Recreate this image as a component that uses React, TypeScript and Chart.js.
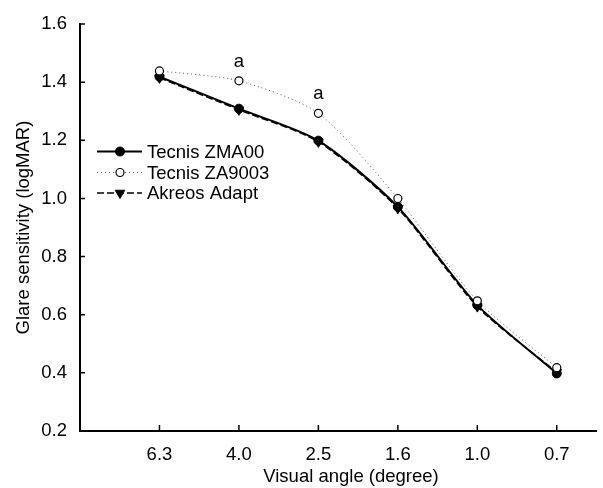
import React, { useEffect, useRef } from 'react';
import { Chart, registerables } from 'chart.js';

Chart.register(...registerables);

// ---- data ----
const categories = ['6.3', '4.0', '2.5', '1.6', '1.0', '0.7'];
const tecnisZMA00 = [1.419, 1.309, 1.199, 0.971, 0.633, 0.398];
const tecnisZA9003 = [1.439, 1.405, 1.293, 1.0, 0.648, 0.418];
const akreosAdapt = [1.415, 1.305, 1.195, 0.966, 0.628, 0.402];
const seriesNames = ['Tecnis ZMA00', 'Tecnis ZA9003', 'Akreos Adapt'];
const yTickValues = [0.2, 0.4, 0.6, 0.8, 1.0, 1.2, 1.4, 1.6];
const significantCategories = ['4.0', '2.5'];
const significanceLabel = 'a';
const xAxisTitle = 'Visual angle (degree)';
const yAxisTitle = 'Glare sensitivity (logMAR)';

// ---- styles ----
const FONT = "'Liberation Sans', Arial, Helvetica, sans-serif";
const FS = 18.5;

type SeriesStyle = {
  color: string;
  width: number;
  dash: number[];
  point: 'circle' | 'triangle';
  radius: number;
  fill: string;
  pointBorder: string;
  pointBorderWidth: number;
  rotation: number;
  order: number;
};

const seriesStyles: SeriesStyle[] = [
  { color: '#000', width: 2, dash: [], point: 'circle', radius: 4.5, fill: '#000', pointBorder: '#000', pointBorderWidth: 1, rotation: 0, order: 1 },
  { color: '#555', width: 1, dash: [1, 3], point: 'circle', radius: 4, fill: '#fff', pointBorder: '#000', pointBorderWidth: 1.2, rotation: 0, order: 0 },
  { color: '#000', width: 1.5, dash: [7, 3], point: 'triangle', radius: 5.5, fill: '#000', pointBorder: '#000', pointBorderWidth: 1, rotation: 180, order: 2 },
];
const seriesValues = [tecnisZMA00, tecnisZA9003, akreosAdapt];

function drawMarker(ctx: CanvasRenderingContext2D, s: SeriesStyle, x: number, y: number) {
  ctx.save();
  ctx.setLineDash([]);
  ctx.fillStyle = s.fill;
  ctx.strokeStyle = s.pointBorder;
  ctx.lineWidth = s.pointBorderWidth;
  ctx.beginPath();
  if (s.point === 'circle') {
    ctx.arc(x, y, s.radius, 0, Math.PI * 2);
  } else {
    const r = s.radius;
    const h = Math.sin(Math.PI / 3) * r;
    ctx.moveTo(x - h, y - r / 2);
    ctx.lineTo(x + h, y - r / 2);
    ctx.lineTo(x, y + r);
    ctx.closePath();
  }
  ctx.fill();
  ctx.stroke();
  ctx.restore();
}

const decorPlugin = {
  id: 'decor',
  afterDraw(chart: any) {
    const { ctx, chartArea, scales } = chart;
    const xs = scales.x;
    const ys = scales.y;
    ctx.save();
    // inward tick marks
    ctx.strokeStyle = '#000';
    ctx.lineWidth = 1.5;
    ctx.setLineDash([]);
    ctx.beginPath();
    ys.ticks.forEach((t: any) => {
      const py = ys.getPixelForValue(t.value);
      ctx.moveTo(chartArea.left, py);
      ctx.lineTo(chartArea.left + 5, py);
    });
    xs.ticks.forEach((t: any) => {
      const px = xs.getPixelForValue(t.value);
      ctx.moveTo(px, chartArea.bottom);
      ctx.lineTo(px, chartArea.bottom - 6);
    });
    ctx.stroke();

    // x axis title
    ctx.fillStyle = '#000';
    ctx.font = `${FS}px ${FONT}`;
    ctx.textAlign = 'center';
    ctx.textBaseline = 'alphabetic';
    ctx.fillText(xAxisTitle, 351, 481.5);

    // significance labels
    significantCategories.forEach((c) => {
      const i = categories.indexOf(c);
      const px = xs.getPixelForValue(i);
      const py = ys.getPixelForValue(tecnisZA9003[i]);
      ctx.fillText(significanceLabel, px, py - 14);
    });

    // legend
    const rows = [151.5, 172.5, 193];
    const baselines = [157.5, 178.5, 199];
    seriesNames.forEach((name, k) => {
      const s = seriesStyles[k];
      const y = rows[k];
      ctx.save();
      ctx.strokeStyle = s.color;
      ctx.lineWidth = s.width;
      ctx.setLineDash(s.dash);
      ctx.beginPath();
      ctx.moveTo(97, y);
      ctx.lineTo(142, y);
      ctx.stroke();
      ctx.restore();
      drawMarker(ctx, s, 120, y);
      ctx.fillStyle = '#000';
      ctx.textAlign = 'left';
      ctx.textBaseline = 'alphabetic';
      ctx.font = `${FS}px ${FONT}`;
      ctx.fillText(name, 147, baselines[k]);
    });
    ctx.restore();
  },
};

export default function App() {
  const canvasRef = useRef<HTMLCanvasElement | null>(null);

  useEffect(() => {
    const canvas = canvasRef.current;
    if (!canvas) return;
    const datasets = seriesNames.map((name, k) => {
      const s = seriesStyles[k];
      return {
        label: name,
        data: categories.map((_, i) => ({ x: i, y: seriesValues[k][i] })),
        borderColor: s.color,
        borderWidth: s.width,
        borderDash: s.dash,
        backgroundColor: s.fill,
        pointStyle: s.point,
        pointRadius: s.radius,
        pointRotation: s.rotation,
        pointBackgroundColor: s.fill,
        pointBorderColor: s.pointBorder,
        pointBorderWidth: s.pointBorderWidth,
        tension: 0.25,
        fill: false,
        order: s.order,
      };
    });

    const chart = new Chart(canvas, {
      type: 'line',
      data: { datasets },
      options: {
        responsive: false,
        animation: false,
        devicePixelRatio: 1,
        layout: { padding: { left: 0, right: 0, top: 24, bottom: 0 } },
        plugins: { legend: { display: false }, tooltip: { enabled: false } },
        scales: {
          x: {
            type: 'linear',
            min: -1,
            max: 5.5,
            bounds: 'data',
            afterBuildTicks: (scale: any) => {
              scale.ticks = categories.map((_, i) => ({ value: i }));
            },
            afterFit: (scale: any) => {
              scale.height = 57;
            },
            grid: { display: false, drawTicks: false },
            border: { display: true, color: '#000', width: 2 },
            ticks: {
              autoSkip: false,
              maxRotation: 0,
              padding: 13,
              color: '#000',
              font: { family: FONT, size: FS },
              callback: (v: any) => categories[Math.round(Number(v))] ?? '',
            },
          },
          y: {
            type: 'linear',
            min: 0.2,
            max: 1.6,
            bounds: 'data',
            afterBuildTicks: (scale: any) => {
              scale.ticks = yTickValues.map((v) => ({ value: v }));
            },
            afterFit: (scale: any) => {
              scale.width = 80;
            },
            grid: { display: false, drawTicks: false },
            border: { display: true, color: '#000', width: 2 },
            ticks: {
              padding: 13,
              color: '#000',
              font: { family: FONT, size: FS },
              callback: (v: any) => Number(v).toFixed(1),
            },
            title: {
              display: true,
              text: yAxisTitle,
              color: '#000',
              font: { family: FONT, size: FS, lineHeight: 1 },
              padding: { top: 14.4, bottom: 0 },
            },
          },
        },
      },
      plugins: [decorPlugin],
    } as any);

    return () => chart.destroy();
  }, []);

  return (
    <div style={{ position: 'absolute', left: 0, top: 0, width: 603, height: 488, background: '#fff' }}>
      <canvas ref={canvasRef} width={603} height={488} style={{ display: 'block', width: 603, height: 488 }} />
    </div>
  );
}
